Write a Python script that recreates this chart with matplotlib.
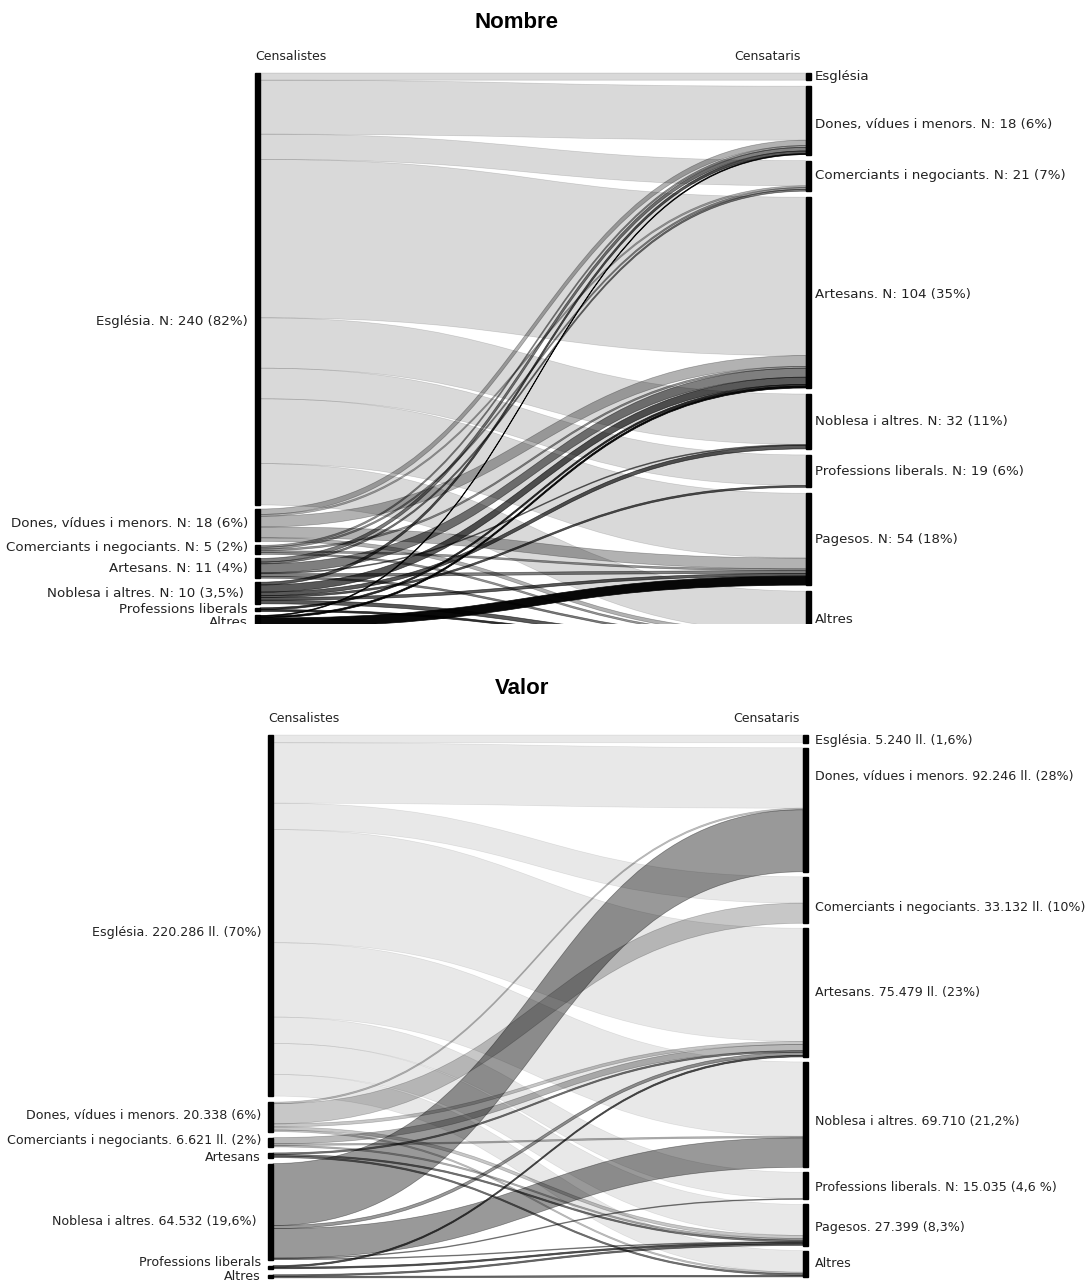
import numpy as np
import matplotlib.pyplot as plt
from matplotlib.path import Path
from matplotlib.patches import PathPatch, Rectangle
from matplotlib.transforms import Bbox, TransformedBbox

# --- dades ---------------------------------------------------------------
# files: censalistes (origen), columnes: censataris (destí)
origens = ["Església", "Dones", "Comerciants", "Artesans", "Noblesa", "Professions", "Altres"]
destins = ["Església", "Dones", "Comerciants", "Artesans", "Noblesa", "Professions", "Pagesos", "Altres"]

# Nombre de censals
nombre = np.array([
    [4, 30, 14, 88, 28, 17, 36, 23],
    [0, 3, 1, 6, 0, 0, 6, 2],
    [0, 1, 1, 1, 0, 0, 1, 1],
    [0, 2, 1, 5, 0.5, 0, 1.5, 1],
    [0, 1.5, 0, 4, 2, 1, 1.5, 2],
    [0, 0, 0, 1, 0, 0, 0, 1],
    [0, 0.5, 0, 1, 0, 0, 5, 1.5],
])

# Valor (milers de lliures)
valor = np.array([
    [5, 39, 17, 73, 48, 17, 20, 14],
    [0, 1, 13, 2, 0, 0, 2, 1],
    [0, 0, 0, 4, 1, 0, 1, 0],
    [0, 0, 0, 1, 0, 0, 1, 1],
    [0, 40, 0, 2, 19, 0.5, 0.5, 0],
    [0, 0, 0, 1, 0, 0, 1, 0],
    [0, 0, 0, 0, 0, 0, 1, 1],
])

nombre_esq = ["Església. N: 240 (82%)", "Dones, vídues i menors. N: 18 (6%)",
              "Comerciants i negociants. N: 5 (2%)", "Artesans. N: 11 (4%)",
              "Noblesa i altres. N: 10 (3,5%) ", "Professions liberals", "Altres"]
nombre_dre = ["Església", "Dones, vídues i menors. N: 18 (6%)",
              "Comerciants i negociants. N: 21 (7%)", "Artesans. N: 104 (35%)",
              "Noblesa i altres. N: 32 (11%)", "Professions liberals. N: 19 (6%)",
              "Pagesos. N: 54 (18%)", "Altres"]
valor_esq = ["Església. 220.286 ll. (70%)", "Dones, vídues i menors. 20.338 (6%)",
             "Comerciants i negociants. 6.621 ll. (2%)", "Artesans",
             "Noblesa i altres. 64.532 (19,6%) ", "Professions liberals", "Altres"]
valor_dre = ["Església. 5.240 ll. (1,6%)", "Dones, vídues i menors. 92.246 ll. (28%)",
             "Comerciants i negociants. 33.132 ll. (10%)", "Artesans. 75.479 ll. (23%)",
             "Noblesa i altres. 69.710 (21,2%)", "Professions liberals. N: 15.035 (4,6 %)",
             "Pagesos. 27.399 (8,3%)", "Altres"]

# opacitat dels fluxos per origen
alfa_nombre = [0.15, 0.30, 0.40, 0.50, 0.65, 0.80, 0.97]
alfa_valor = [0.09, 0.22, 0.28, 0.50, 0.40, 0.65, 0.55]

W, H = 1088, 1280
fig = plt.figure(figsize=(W / 100, H / 100), dpi=100, facecolor="white")
ax = fig.add_axes([0, 0, 1, 1])
ax.set_xlim(0, W)
ax.set_ylim(H, 0)
ax.axis("off")

LABEL_FONT = ["DejaVu Sans"]


def banda(x0, x1, a0, a1, b0, b1, color, clip):
    xm = (x0 + x1) / 2
    verts = [(x0, a0), (xm, a0), (xm, b0), (x1, b0), (x1, b1),
             (xm, b1), (xm, a1), (x0, a1), (x0, a0)]
    codes = [Path.MOVETO, Path.CURVE4, Path.CURVE4, Path.CURVE4, Path.LINETO,
             Path.CURVE4, Path.CURVE4, Path.CURVE4, Path.CLOSEPOLY]
    p = PathPatch(Path(verts, codes), facecolor=color, edgecolor=color, lw=0.5)
    ax.add_patch(p)
    p.set_clip_path(clip)


def panell(flux, et_esq, et_dre, alfes, k, top, bot, xl, xr, pad_l, pad_r,
           dy_esq, dy_dre, titol, tx, ty, hx_l, hx_r, fs, gap_r):
    clip = Rectangle((0, top - 8), W, bot - top + 8, transform=ax.transData)
    cbox = TransformedBbox(Bbox([[0, top - 8], [W, bot]]), ax.transData)
    mida_l = flux.sum(axis=1)
    mida_r = flux.sum(axis=0)
    y_l = top + np.concatenate([[0], np.cumsum(mida_l)[:-1]]) * k + np.arange(len(mida_l)) * pad_l
    y_r = top + np.concatenate([[0], np.cumsum(mida_r)[:-1]]) * k + np.arange(len(mida_r)) * pad_r

    # fluxos
    for i in range(flux.shape[0]):
        off_s = 0.0
        for j in range(flux.shape[1]):
            v = flux[i, j]
            if v <= 0:
                continue
            off_t = flux[:i, j].sum() * k
            a0 = y_l[i] + off_s
            a1 = a0 + v * k
            b0 = y_r[j] + off_t
            b1 = b0 + v * k
            banda(xl, xr, a0, a1, b0, b1, (0, 0, 0, alfes[i]), clip)
            off_s += v * k

    # nodes
    for i, m in enumerate(mida_l):
        r = Rectangle((xl - 5, y_l[i]), 5, m * k, color="black")
        ax.add_patch(r)
        r.set_clip_path(clip)
        t = ax.text(xl - 12, y_l[i] + m * k / 2 + dy_esq[i], et_esq[i], ha="right",
                    va="center", fontsize=fs, family=LABEL_FONT, color="#222222")
        t.set_clip_box(cbox)
        t.set_clip_on(True)
    for j, m in enumerate(mida_r):
        r = Rectangle((xr, y_r[j]), 5, m * k, color="black")
        ax.add_patch(r)
        r.set_clip_path(clip)
        t = ax.text(xr + gap_r, y_r[j] + m * k / 2 + dy_dre[j], et_dre[j], ha="left",
                    va="center", fontsize=fs, family=LABEL_FONT, color="#222222")
        t.set_clip_box(cbox)
        t.set_clip_on(True)

    ax.text(hx_l, top - 16, "Censalistes", ha="left", va="center", fontsize=9,
            family=LABEL_FONT, color="#222222")
    ax.text(hx_r, top - 16, "Censataris", ha="right", va="center", fontsize=9,
            family=LABEL_FONT, color="#222222")
    ax.text(tx, ty, titol, ha="center", va="center", fontsize=16,
            fontweight="bold", family=["Liberation Sans", "DejaVu Sans"])


panell(nombre, nombre_esq, nombre_dre, alfa_nombre, k=1.8, top=73, bot=624,
       xl=260, xr=806, pad_l=4, pad_r=6,
       dy_esq=[32, -2, -2, 0, 0, 0, 0], dy_dre=[0, 4, 0, 2, 0, 0, 0, 0],
       titol="Nombre", tx=516, ty=22, hx_l=255, hx_r=801, fs=9.6, gap_r=9)

panell(valor, valor_esq, valor_dre, alfa_valor, k=1.55, top=735, bot=1280,
       xl=273, xr=803, pad_l=6, pad_r=5,
       dy_esq=[17, -1, -2, 2, 10, -5, 0], dy_dre=[2, -33, 7, 0, 7, 2, 3, 0],
       titol="Valor", tx=522, ty=688, hx_l=268, hx_r=800, fs=9.1, gap_r=12)

fig.savefig("out.png", dpi=100, facecolor="white")
